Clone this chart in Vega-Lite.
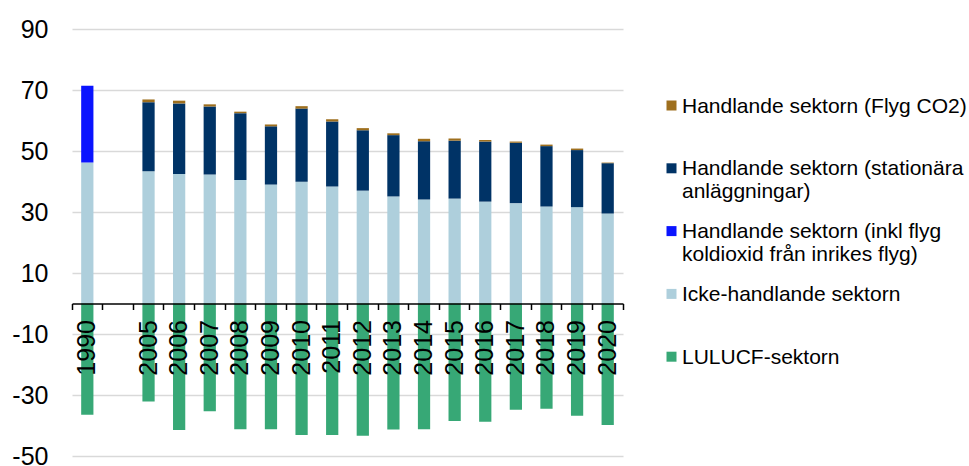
{
  "$schema": "https://vega.github.io/schema/vega-lite/v6.json",
  "width": 551,
  "height": 427,
  "autosize": {"type": "none"},
  "padding": {"left": 72, "top": 29, "right": 346, "bottom": 10},
  "background": "white",
  "config": {
    "view": {"stroke": null},
    "font": "Liberation Sans"
  },
  "data": {
    "values": [
      {"ar": "1990", "sektor": "Icke-handlande sektorn", "varde": 46.2},
      {"ar": "1990", "sektor": "Handlande sektorn (inkl flyg koldioxid från inrikes flyg)", "varde": 25.2},
      {"ar": "1990", "sektor": "LULUCF-sektorn", "varde": -36.5},
      {"ar": "2005", "sektor": "Icke-handlande sektorn", "varde": 43.4},
      {"ar": "2005", "sektor": "Handlande sektorn (stationära anläggningar)", "varde": 22.6},
      {"ar": "2005", "sektor": "Handlande sektorn (Flyg CO2)", "varde": 0.9},
      {"ar": "2005", "sektor": "LULUCF-sektorn", "varde": -32.1},
      {"ar": "2006", "sektor": "Icke-handlande sektorn", "varde": 42.5},
      {"ar": "2006", "sektor": "Handlande sektorn (stationära anläggningar)", "varde": 23.1},
      {"ar": "2006", "sektor": "Handlande sektorn (Flyg CO2)", "varde": 0.9},
      {"ar": "2006", "sektor": "LULUCF-sektorn", "varde": -41.5},
      {"ar": "2007", "sektor": "Icke-handlande sektorn", "varde": 42.3},
      {"ar": "2007", "sektor": "Handlande sektorn (stationära anläggningar)", "varde": 22.3},
      {"ar": "2007", "sektor": "Handlande sektorn (Flyg CO2)", "varde": 0.7},
      {"ar": "2007", "sektor": "LULUCF-sektorn", "varde": -35.3},
      {"ar": "2008", "sektor": "Icke-handlande sektorn", "varde": 40.5},
      {"ar": "2008", "sektor": "Handlande sektorn (stationära anläggningar)", "varde": 21.9},
      {"ar": "2008", "sektor": "Handlande sektorn (Flyg CO2)", "varde": 0.5},
      {"ar": "2008", "sektor": "LULUCF-sektorn", "varde": -41.2},
      {"ar": "2009", "sektor": "Icke-handlande sektorn", "varde": 39.0},
      {"ar": "2009", "sektor": "Handlande sektorn (stationära anläggningar)", "varde": 19.1},
      {"ar": "2009", "sektor": "Handlande sektorn (Flyg CO2)", "varde": 0.6},
      {"ar": "2009", "sektor": "LULUCF-sektorn", "varde": -41.2},
      {"ar": "2010", "sektor": "Icke-handlande sektorn", "varde": 39.9},
      {"ar": "2010", "sektor": "Handlande sektorn (stationära anläggningar)", "varde": 24.0},
      {"ar": "2010", "sektor": "Handlande sektorn (Flyg CO2)", "varde": 0.8},
      {"ar": "2010", "sektor": "LULUCF-sektorn", "varde": -43.1},
      {"ar": "2011", "sektor": "Icke-handlande sektorn", "varde": 38.4},
      {"ar": "2011", "sektor": "Handlande sektorn (stationära anläggningar)", "varde": 21.3},
      {"ar": "2011", "sektor": "Handlande sektorn (Flyg CO2)", "varde": 0.7},
      {"ar": "2011", "sektor": "LULUCF-sektorn", "varde": -43.1},
      {"ar": "2012", "sektor": "Icke-handlande sektorn", "varde": 37.0},
      {"ar": "2012", "sektor": "Handlande sektorn (stationära anläggningar)", "varde": 19.8},
      {"ar": "2012", "sektor": "Handlande sektorn (Flyg CO2)", "varde": 0.7},
      {"ar": "2012", "sektor": "LULUCF-sektorn", "varde": -43.4},
      {"ar": "2013", "sektor": "Icke-handlande sektorn", "varde": 35.1},
      {"ar": "2013", "sektor": "Handlande sektorn (stationära anläggningar)", "varde": 20.1},
      {"ar": "2013", "sektor": "Handlande sektorn (Flyg CO2)", "varde": 0.6},
      {"ar": "2013", "sektor": "LULUCF-sektorn", "varde": -41.3},
      {"ar": "2014", "sektor": "Icke-handlande sektorn", "varde": 34.1},
      {"ar": "2014", "sektor": "Handlande sektorn (stationära anläggningar)", "varde": 19.1},
      {"ar": "2014", "sektor": "Handlande sektorn (Flyg CO2)", "varde": 0.8},
      {"ar": "2014", "sektor": "LULUCF-sektorn", "varde": -41.2},
      {"ar": "2015", "sektor": "Icke-handlande sektorn", "varde": 34.4},
      {"ar": "2015", "sektor": "Handlande sektorn (stationära anläggningar)", "varde": 19.0},
      {"ar": "2015", "sektor": "Handlande sektorn (Flyg CO2)", "varde": 0.7},
      {"ar": "2015", "sektor": "LULUCF-sektorn", "varde": -38.5},
      {"ar": "2016", "sektor": "Icke-handlande sektorn", "varde": 33.4},
      {"ar": "2016", "sektor": "Handlande sektorn (stationära anläggningar)", "varde": 19.7},
      {"ar": "2016", "sektor": "Handlande sektorn (Flyg CO2)", "varde": 0.5},
      {"ar": "2016", "sektor": "LULUCF-sektorn", "varde": -38.8},
      {"ar": "2017", "sektor": "Icke-handlande sektorn", "varde": 32.9},
      {"ar": "2017", "sektor": "Handlande sektorn (stationära anläggningar)", "varde": 19.8},
      {"ar": "2017", "sektor": "Handlande sektorn (Flyg CO2)", "varde": 0.4},
      {"ar": "2017", "sektor": "LULUCF-sektorn", "varde": -34.8},
      {"ar": "2018", "sektor": "Icke-handlande sektorn", "varde": 31.8},
      {"ar": "2018", "sektor": "Handlande sektorn (stationära anläggningar)", "varde": 19.8},
      {"ar": "2018", "sektor": "Handlande sektorn (Flyg CO2)", "varde": 0.5},
      {"ar": "2018", "sektor": "LULUCF-sektorn", "varde": -34.5},
      {"ar": "2019", "sektor": "Icke-handlande sektorn", "varde": 31.6},
      {"ar": "2019", "sektor": "Handlande sektorn (stationära anläggningar)", "varde": 18.7},
      {"ar": "2019", "sektor": "Handlande sektorn (Flyg CO2)", "varde": 0.5},
      {"ar": "2019", "sektor": "LULUCF-sektorn", "varde": -36.8},
      {"ar": "2020", "sektor": "Icke-handlande sektorn", "varde": 29.5},
      {"ar": "2020", "sektor": "Handlande sektorn (stationära anläggningar)", "varde": 16.5},
      {"ar": "2020", "sektor": "Handlande sektorn (Flyg CO2)", "varde": 0.2},
      {"ar": "2020", "sektor": "LULUCF-sektorn", "varde": -39.8}
    ]
  },
  "mark": {"type": "bar", "width": {"band": 0.4}},
  "encoding": {
    "x": {
      "field": "ar",
      "type": "ordinal",
      "scale": {
        "domain": ["1990", " ", "2005", "2006", "2007", "2008", "2009", "2010", "2011", "2012", "2013", "2014", "2015", "2016", "2017", "2018", "2019", "2020"],
        "paddingInner": 0,
        "paddingOuter": 0
      },
      "axis": {
        "title": null,
        "orient": "bottom",
        "offset": -152.5,
        "labelAngle": -90,
        "labelFontSize": 25,
        "labelColor": "#000000",
        "labelPadding": 10,
        "bandPosition": 1,
        "tickExtra": true,
        "ticks": true,
        "tickSize": 6,
        "tickWidth": 1.5,
        "tickColor": "#000000",
        "domainColor": "#000000",
        "domainWidth": 1.5,
        "grid": false,
        "zindex": 1
      }
    },
    "y": {
      "field": "varde",
      "type": "quantitative",
      "stack": "zero",
      "scale": {"domain": [-50, 90], "nice": false},
      "axis": {
        "title": null,
        "values": [-50, -30, -10, 10, 30, 50, 70, 90],
        "labelExpr": "datum.value + ''",
        "labelFontSize": 25,
        "labelColor": "#000000",
        "labelPadding": 24,
        "ticks": false,
        "domain": false,
        "grid": true,
        "gridColor": "#d9d9d9",
        "gridWidth": 1.5
      }
    },
    "color": {
      "field": "sektor",
      "type": "nominal",
      "scale": {
        "domain": [
          "Handlande sektorn (Flyg CO2)",
          "Handlande sektorn (stationära anläggningar)",
          "Handlande sektorn (inkl flyg koldioxid från inrikes flyg)",
          "Icke-handlande sektorn",
          "LULUCF-sektorn"
        ],
        "range": ["#9e6f1e", "#003366", "#0a14ff", "#aecfdc", "#37a876"]
      },
      "legend": {
        "title": null,
        "orient": "none",
        "legendX": 589,
        "legendY": 66,
        "padding": 0,
        "symbolType": "square",
        "symbolSize": 100,
        "symbolStrokeWidth": 0,
        "labelFontSize": 21,
        "labelColor": "#000000",
        "labelOffset": 0,
        "labelLimit": 0,
        "labelBaseline": "top",
        "labelLineHeight": 25,
        "gridAlign": "all",
        "rowPadding": 17.8,
        "encode": {
          "labels": {"update": {"dy": {"value": -10}}}
        },
        "labelExpr": "datum.label == 'Handlande sektorn (stationära anläggningar)' ? ['Handlande sektorn (stationära', 'anläggningar)'] : datum.label == 'Handlande sektorn (inkl flyg koldioxid från inrikes flyg)' ? ['Handlande sektorn (inkl flyg', 'koldioxid från inrikes flyg)'] : datum.label"
      }
    },
    "order": {"field": "sektor", "sort": "descending"}
  }
}
